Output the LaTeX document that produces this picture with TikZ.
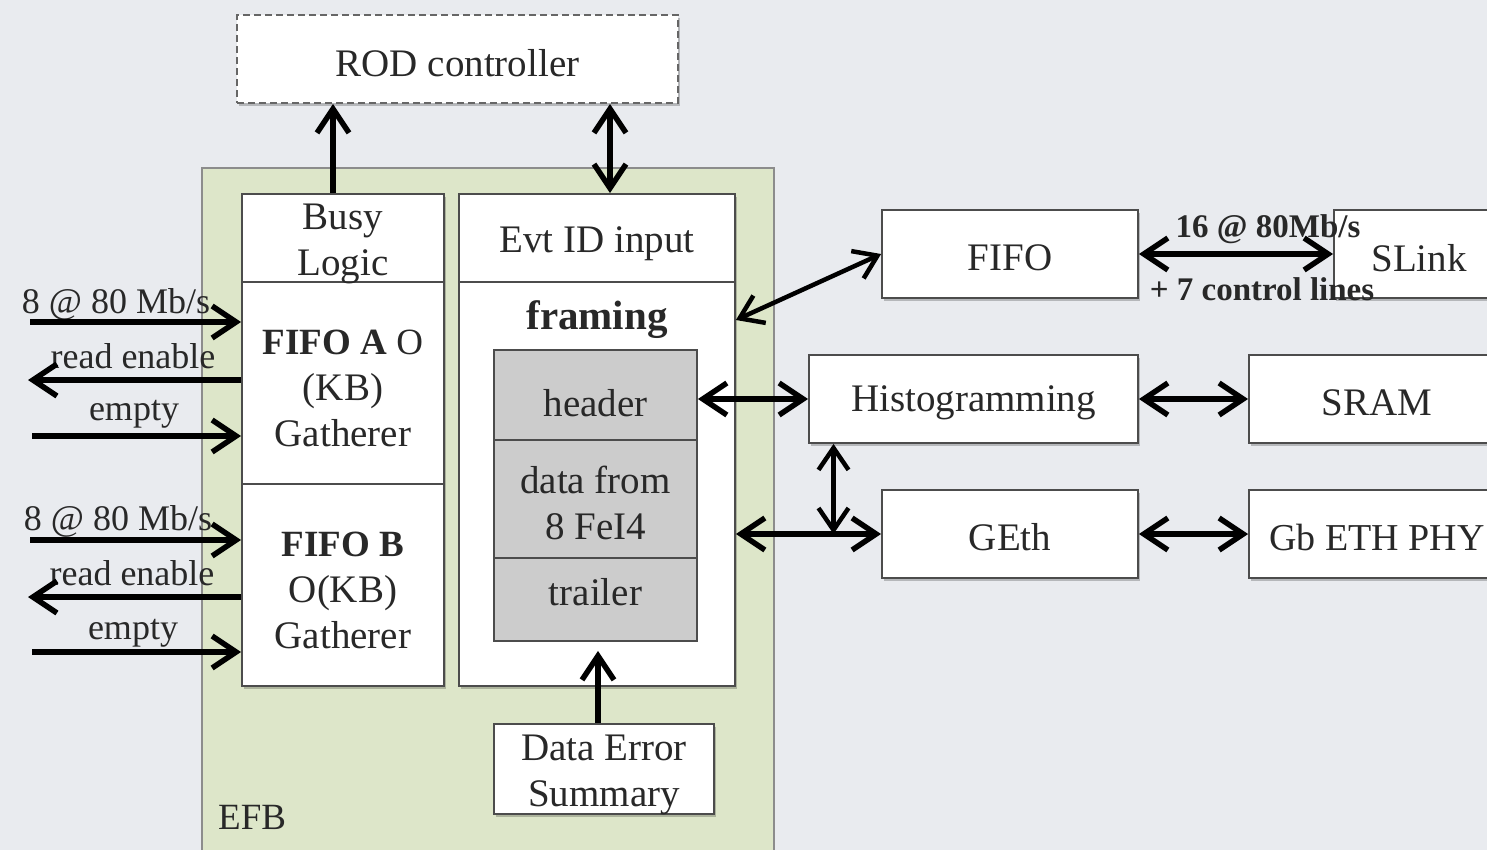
\documentclass[tikz,border=0pt]{standalone}
\usepackage{fontspec}
\setmainfont{Liberation Serif}
\usetikzlibrary{arrows.meta,shadows,calc}
\definecolor{bgc}{RGB}{233,235,239}
\definecolor{efbgreen}{RGB}{221,230,201}
\definecolor{txt}{RGB}{40,40,40}
\newcommand\fsz[2]{\fontsize{#1}{#2}\selectfont}
\begin{document}
\begin{tikzpicture}[x=1pt,y=-1pt,
  box/.style={draw=black!70, line width=1.8pt, fill=white, inner sep=0pt},
  shad/.style={drop shadow={shadow xshift=2pt,shadow yshift=-3pt,fill=black,opacity=0.22}},
  gbox/.style={box, fill=black!20},
  tx/.style={font=\fsz{39}{46}, text=txt, inner sep=0pt, align=center},
  lbl/.style={font=\fsz{36}{40}, text=txt, inner sep=0pt},
  blbl/.style={font=\bfseries\fsz{33}{38}, text=txt, inner sep=0pt},
  arr/.style={line width=5.5pt, draw=black, >={Straight Barb[length=24pt,width=32pt]}},
  tarr/.style={line width=4.5pt, draw=black, >={Straight Barb[length=22pt,width=30pt]}}
]
\useasboundingbox (0,0) rectangle (1487,850);
\fill[bgc] (0,0) rectangle (1487,850);
\clip (0,0) rectangle (1487,850);

% EFB container
\node[draw=black!45, line width=1.5pt, fill=efbgreen, minimum width=572, minimum height=720, inner sep=0pt] (efb) at (488,528) {};
\node[lbl, font=\fsz{37}{44}, anchor=west] (efblabel) at (218,817) {EFB};

% ROD controller
\node[box, shad, draw=black!60, dash pattern=on 7pt off 4pt, minimum width=441, minimum height=88] (rod) at (457.5,59) {};
\node[tx] (rodt) at ([yshift=-4pt]rod.center) {ROD controller};

% left column
\node[box, shad, minimum width=202, minimum height=88] (busy) at (343,238) {};
\node[box, shad, minimum width=202, minimum height=202] (fifoa) at (343,383) {};
\node[box, shad, minimum width=202, minimum height=202] (fifob) at (343,585) {};
\node[tx] (busyt) at ([yshift=-6pt]busy.center) {Busy\\Logic};
\node[tx] (fifoat) at ([yshift=-5pt]fifoa.center) {{\fsz{37}{46}\textbf{FIFO A} O}\\(KB)\\Gatherer};
\node[tx] (fifobt) at ([yshift=-5pt]fifob.center) {{\fsz{37}{46}\textbf{FIFO B}}\\O(KB)\\Gatherer};

% middle column
\node[box, shad, minimum width=276, minimum height=88] (evt) at (597,238) {};
\node[tx] (evtt) at ([yshift=-6pt]evt.center) {Evt ID input};
\node[box, shad, minimum width=276, minimum height=404] (framing) at (597,484) {};
\node[tx, font=\bfseries\fsz{41}{46}] (framingtxt) at (597,320) {framing};
\node[gbox, minimum width=203, minimum height=90] (header) at (595.5,395) {};
\node[gbox, minimum width=203, minimum height=118] (data) at (595.5,499) {};
\node[gbox, minimum width=203, minimum height=83] (trailer) at (595.5,599.5) {};
\node[tx] (headert) at ([yshift=-8pt]header.center) {header};
\node[tx] (datat) at ([yshift=-4pt]data.center) {data from\\8 FeI4};
\node[tx] (trailert) at ([yshift=7pt]trailer.center) {trailer};
\node[box, shad, minimum width=220, minimum height=90] (des) at (604,769) {};
\node[tx] (dest) at ([yshift=-6pt]des.center) {Data Error\\Summary};

% right side
\node[box, shad, minimum width=256, minimum height=88] (fifo) at (1010,254) {};
\node[box, shad, minimum width=170, minimum height=88] (slink) at (1419,254) {};
\node[box, shad, minimum width=329, minimum height=88] (hist) at (973.5,399) {};
\node[box, shad, minimum width=256, minimum height=88] (sram) at (1377,399) {};
\node[box, shad, minimum width=256, minimum height=88] (geth) at (1010,534) {};
\node[box, shad, minimum width=256, minimum height=88] (phy) at (1377,534) {};
\node[tx] (fifot) at ([yshift=-4pt]fifo.center) {FIFO};
\node[tx] (slinkt) at ([yshift=-4pt]slink.center) {SLink};
\node[tx] (histt) at ([yshift=-4pt]hist.center) {Histogramming};
\node[tx] (sramt) at ([yshift=-4pt]sram.center) {SRAM};
\node[tx] (getht) at ([yshift=-3pt]geth.center) {GEth};
\node[tx, font=\fsz{38}{46}] (phyt) at ([yshift=-3pt]phy.center) {Gb ETH PHY};

% left labels
\node[lbl] (la1t) at (116,304) {8 @ 80 Mb/s};
\node[lbl] (la2t) at (133,356) {read enable};
\node[lbl] (la3t) at (134,414) {empty};
\node[lbl] (lb1t) at (118,521) {8 @ 80 Mb/s};
\node[lbl] (lb2t) at (132,573) {read enable};
\node[lbl] (lb3t) at (133,633) {empty};

% left arrows
\coordinate (la1) at (30,322);
\coordinate (la2) at (28,380);
\coordinate (la3) at (32,436);
\coordinate (lb1) at (30,540);
\coordinate (lb2) at (28,597);
\coordinate (lb3) at (32,652);
\draw[arr,->] (la1) -- (la1 -| fifoa.west);
\draw[arr,<-] (la2) -- (la2 -| fifoa.west);
\draw[arr,->] (la3) -- (la3 -| fifoa.west);
\draw[arr,->] (lb1) -- (lb1 -| fifob.west);
\draw[arr,<-] (lb2) -- (lb2 -| fifob.west);
\draw[arr,->] (lb3) -- (lb3 -| fifob.west);

% top arrows
\draw[arr,->] ([xshift=-10pt]busy.north) -- ([xshift=-10pt]busy.north |- rod.south);
\draw[arr,<->] ([xshift=13pt]evt.north) -- ([xshift=13pt]evt.north |- rod.south);

% data error summary to trailer
\draw[arr,->,shorten >=9pt] ([xshift=-6pt]des.north) -- ([xshift=-6pt]des.north |- trailer.south);

% right connections
\draw[tarr,<->] ([yshift=164pt]framing.east) -- (fifo.west);
\draw[arr,<->] (hist.west -| header.east) -- (hist.west);
\draw[arr,<->] (geth.west -| framing.east) -- (geth.west);
\coordinate (vx) at ([xshift=-140pt]hist.south);
\draw[tarr,<->] (vx) -- (vx |- geth.west);
\draw[arr,<->] (fifo.east) -- (slink.west);
\draw[arr,<->] (hist.east) -- (sram.west);
\draw[arr,<->] (geth.east) -- (phy.west);

% SLink labels
\node[blbl] (s1) at (1268,229) {16 @ 80Mb/s};
\node[blbl] (s2) at (1262,289) {+ 7 control lines};
\end{tikzpicture}
\end{document}
